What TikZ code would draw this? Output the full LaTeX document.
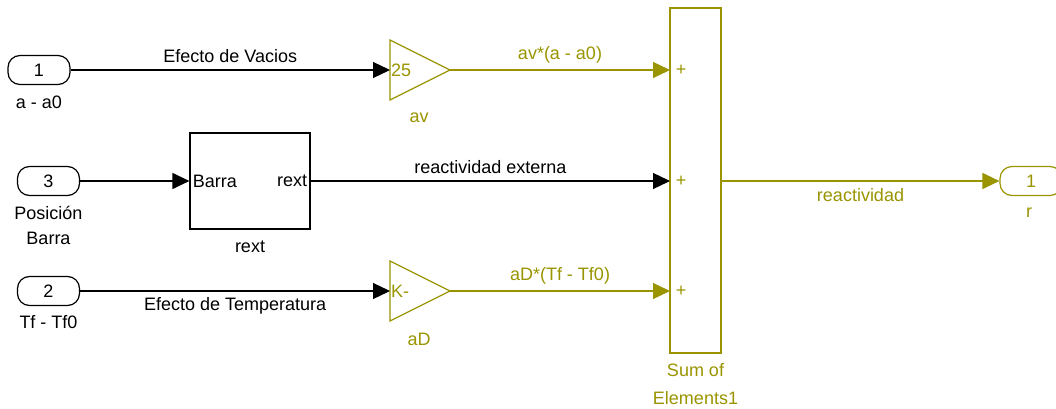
\documentclass[tikz,border=0pt]{standalone}
\usepackage{fontspec}
\setmainfont{Liberation Sans}
\usetikzlibrary{arrows.meta}
\definecolor{simolive}{RGB}{153,148,0}
\begin{document}
\begin{tikzpicture}[x=1pt,y=-1pt,
    port/.style={draw,line width=1.2pt,rounded corners=12pt,minimum width=62pt,minimum height=29pt,inner sep=0pt},
    blk/.style={draw,line width=1.2pt,inner sep=0pt},
    sig/.style={line width=1.2pt,-{Triangle[length=17pt,width=16pt]}},
    ol/.style={simolive},
    every node/.style={font=\fontsize{18}{21}\selectfont}]
  \useasboundingbox (0,0) rectangle (1056,409);
  % inports
  \node[port] (in1) at (39,70) {1};
  \node at (39,102) {a - a0};
  \node[port] (in3) at (48.5,181) {3};
  \node at (48.5,213) {Posición};
  \node at (48.5,238) {Barra};
  \node[port] (in2) at (48.5,291) {2};
  \node at (48.5,322) {Tf - Tf0};
  % rext subsystem
  \node[blk,minimum width=120pt,minimum height=96pt] (rext) at (250,181) {};
  \node[anchor=west] at (rext.west) {Barra};
  \node[anchor=east] at (rext.east) {rext};
  \node at (250,247) {rext};
  % gains
  \foreach \g/\y/\k in {av/70/25, aD/291/K-}{
    \coordinate (\g-in) at (390,\y);
    \coordinate (\g-out) at (450,\y);
    \draw[ol,line width=1.2pt] (390,\y-30) -- (\g-out) -- (390,\y+30) -- cycle;
    \node[ol,anchor=west,inner sep=1pt] at (\g-in) {\k};
    \node[ol] at (419,\y+48) {\g};
  }
  % sum
  \node[blk,draw=simolive,minimum width=51pt,minimum height=345pt] (sum) at (695.5,180.5) {};
  \foreach \n/\y in {1/70,2/181,3/291}{
    \coordinate (sum\n) at (670,\y);
    \node[ol,inner sep=0pt] at (681,\y) {+};
  }
  \node[ol] at (695.5,370) {Sum of};
  \node[ol] at (695.5,398) {Elements1};
  % outport
  \node[port,draw=simolive,text=simolive] (out1) at (1031,181) {1};
  \node[ol] at (1029,213) {r};
  % signals
  \draw[sig] (in1) -- node[above=3pt] {Efecto de Vacios} (av-in);
  \draw[sig] (in3) -- (rext);
  \draw[sig] (in2) -- node[below=3pt] {Efecto de Temperatura} (aD-in);
  \draw[sig,ol] (av-out) -- node[above=3pt,pos=0.5] {av*(a - a0)} (sum1);
  \draw[sig] (rext) -- node[above=3pt] {reactividad externa} (sum2);
  \draw[sig,ol] (aD-out) -- node[above=3pt] {aD*(Tf - Tf0)} (sum3);
  \draw[sig,ol] (sum.east |- out1.west) -- node[below=4pt] {reactividad} (out1);
\end{tikzpicture}
\end{document}
